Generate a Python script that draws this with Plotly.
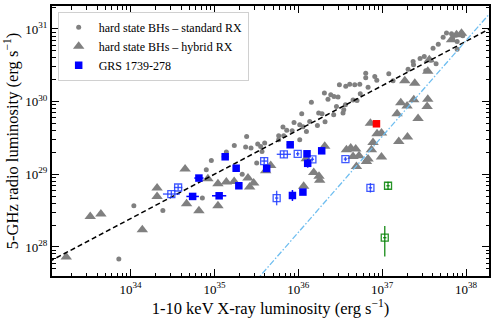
import numpy as np
import plotly.graph_objects as go

# ---------------- data (log10 luminosities, erg/s) ----------------
# hard-state BHs, standard radiative efficiency (grey dots)
std_logLx = [33.860, 34.039, 34.385, 34.856, 34.903, 34.963, 35.142, 35.237, 35.384, 35.372,
             35.436, 35.516, 35.599, 35.551, 35.567, 35.504, 35.331, 35.766, 35.826, 35.766,
             35.817, 35.862, 35.927, 35.949, 36.017, 36.041, 36.017, 36.056, 36.136, 36.097,
             36.156, 36.243, 36.283, 36.319, 36.228, 36.311, 36.354, 36.387, 36.426, 36.474,
             36.455, 36.422, 36.533, 36.490, 36.566, 36.613, 36.673, 36.733, 36.653, 36.700,
             36.739, 36.562, 36.542, 36.804, 36.804, 36.912, 36.936, 37.079, 37.130, 36.832,
             37.309, 37.369, 37.374, 37.452, 37.502, 37.580, 37.643, 37.520, 37.607, 37.669,
             37.727, 37.767, 37.827, 37.878, 37.839, 37.894, 37.894, 37.962, 37.946]
std_logLr = [27.834, 28.567, 28.502, 28.673, 29.062, 29.190, 29.305, 29.396, 29.520, 29.374,
             29.360, 29.415, 29.429, 29.382, 29.314, 29.154, 29.000, 29.530, 29.530, 29.475,
             29.649, 29.605, 29.598, 29.713, 29.475, 29.832, 29.681, 29.653, 29.726, 29.589,
             29.993, 29.842, 29.832, 29.722, 29.671, 30.117, 30.032, 30.094, 30.070, 30.062,
             29.933, 29.818, 29.842, 30.231, 30.210, 30.238, 30.231, 30.238, 30.021, 30.015,
             30.107, 29.956, 29.887, 30.392, 30.327, 30.345, 30.293, 30.382, 30.286, 30.199,
             30.447, 30.552, 30.506, 30.593, 30.620, 30.568, 30.520, 30.424, 30.736, 30.791,
             30.887, 30.946, 30.933, 30.912, 30.873, 30.827, 30.722, 30.905, 30.942]

# hard-state BHs, hybrid (triangles)
hyb_logLx = [33.233, 33.519, 33.646, 34.140, 34.316, 34.316, 34.650, 34.668, 34.815, 34.922,
             35.042, 35.142, 35.042, 35.235, 35.400, 35.468, 35.420, 35.671, 35.611, 36.184,
             36.247, 36.255, 36.064, 36.315, 36.693, 36.860, 36.939, 36.992, 36.891, 36.872,
             36.574, 36.625, 36.685, 36.653, 36.724, 36.832, 36.813, 36.992, 37.198, 37.302,
             37.178, 37.428, 37.222, 37.297, 37.377, 37.544, 37.536, 37.270, 37.389, 37.562,
             37.544, 37.827, 37.887, 37.946, 36.094]
hyb_logLr = [27.861, 28.420, 28.453, 28.237, 28.810, 28.695, 29.072, 28.594, 28.498, 28.938,
             28.869, 28.893, 28.567, 28.901, 28.948, 28.879, 28.824, 29.121, 29.048, 29.025,
             28.972, 28.917, 28.835, 29.385, 29.107, 29.704, 29.557, 29.567, 29.437, 29.337,
             29.337, 29.360, 29.347, 29.245, 29.254, 29.209, 29.176, 29.237, 29.451, 29.512,
             29.832, 29.768, 29.984, 29.938, 30.025, 30.034, 29.933, 30.286, 30.254, 30.575,
             30.417, 30.850, 30.919, 30.942, 29.213]

# GRS 1739-278, filled blue
grs_logLx = [35.128, 34.815, 35.259, 35.291, 34.740, 35.056, 35.903, 35.623, 35.930, 36.055,
             36.104, 36.112, 36.279]
grs_logLr = [29.241, 28.948, 29.083, 28.842, 28.695, 28.704, 29.406, 29.080, 28.708, 28.755,
             29.282, 29.151, 29.323]
grs_xerr = [0.04, 0.055, 0.03, 0.03, 0.075, 0.085, 0.04, 0.03, 0.02, 0.02, 0.02, 0.02, 0.02]
grs_yerr = [0.03, 0.03, 0.03, 0.03, 0.03, 0.03, 0.04, 0.03, 0.075, 0.03, 0.03, 0.06, 0.03]

# GRS 1739-278, open blue
grso_logLx = [34.486, 34.567, 35.828, 35.593, 35.993, 36.168, 35.742, 36.562, 36.860]
grso_logLr = [28.728, 28.818, 29.275, 29.182, 29.282, 29.206, 28.673, 29.209, 28.814]
grso_xerr = [0.10, 0.05, 0.085, 0.035, 0.02, 0.02, 0.02, 0.02, 0.02]
grso_yerr = [0.04, 0.04, 0.05, 0.045, 0.03, 0.03, 0.10, 0.03, 0.065]

# red point
red_logLx = [36.932]
red_logLr = [29.695]
red_xerr = [0.04]
red_yerr = [0.02]

# green open points
grn_logLx = [37.070, 37.031]
grn_logLr = [28.842, 28.127]
grn_xerr = [0.02, 0.02]
grn_yerr_plus = [0.055, 0.16]
grn_yerr_minus = [0.055, 0.26]

# correlations: log LR = norm + slope * (log LX - pivot)
std_norm, std_slope, std_pivot = 29.61, 0.61, 36.0
hyb_norm, hyb_slope, hyb_pivot = 29.52, 1.32, 37.0

x_range_log = [33.063, 38.274]
y_range_log = [27.60, 31.316]
x_major = [34, 35, 36, 37, 38]
y_major = [28, 29, 30, 31]

# ---------------- helpers ----------------
def lin(v):
    return 10 ** np.asarray(v, dtype=float)

def err(logv, ep, em=None):
    logv = np.asarray(logv, dtype=float)
    ep = np.asarray(ep, dtype=float)
    em = ep if em is None else np.asarray(em, dtype=float)
    return (10 ** (logv + ep) - 10 ** logv, 10 ** logv - 10 ** (logv - em))

FONT = "Liberation Serif"
BLUE = "#0000ff"
GREY = "#808080"

fig = go.Figure()

fig.add_trace(go.Scatter(x=lin(std_logLx), y=lin(std_logLr), mode="markers",
                         name="hard state BHs \u2013 standard RX",
                         marker=dict(symbol="circle", size=5, color=GREY, line=dict(width=0))))
fig.add_trace(go.Scatter(x=lin(hyb_logLx), y=lin(hyb_logLr), mode="markers",
                         name="hard state BHs \u2013 hybrid RX",
                         marker=dict(symbol="triangle-up", size=10, color=GREY, line=dict(width=0))))

# correlation lines
xl = np.array([x_range_log[0] - 0.2, x_range_log[1] + 0.2])
fig.add_trace(go.Scatter(x=lin(xl), y=lin(std_norm + std_slope * (xl - std_pivot)), mode="lines",
                         showlegend=False, line=dict(color="black", width=1.5, dash="5px,3px")))
fig.add_trace(go.Scatter(x=lin(xl), y=lin(hyb_norm + hyb_slope * (xl - hyb_pivot)), mode="lines",
                         showlegend=False, line=dict(color="#6fbef0", width=1.3, dash="6px,2px,1.5px,2px")))

# open blue
exp_, exm_ = err(grso_logLx, grso_xerr)
eyp_, eym_ = err(grso_logLr, grso_yerr)
fig.add_trace(go.Scatter(x=lin(grso_logLx), y=lin(grso_logLr), mode="markers", showlegend=False,
                         marker=dict(symbol="square-open", size=7, color="rgba(30,60,255,0.85)",
                                     line=dict(width=1.3)),
                         error_x=dict(type="data", symmetric=False, array=exp_, arrayminus=exm_,
                                      color="rgba(30,60,255,0.85)", thickness=1.4, width=0),
                         error_y=dict(type="data", symmetric=False, array=eyp_, arrayminus=eym_,
                                      color="rgba(30,60,255,0.85)", thickness=1.4, width=0)))

# filled blue
exp_, exm_ = err(grs_logLx, grs_xerr)
eyp_, eym_ = err(grs_logLr, grs_yerr)
fig.add_trace(go.Scatter(x=lin(grs_logLx), y=lin(grs_logLr), mode="markers", name="GRS 1739-278",
                         marker=dict(symbol="square", size=7.5, color=BLUE, line=dict(width=0)),
                         error_x=dict(type="data", symmetric=False, array=exp_, arrayminus=exm_,
                                      color=BLUE, thickness=1.5, width=0),
                         error_y=dict(type="data", symmetric=False, array=eyp_, arrayminus=eym_,
                                      color=BLUE, thickness=1.5, width=0)))

# red
exp_, exm_ = err(red_logLx, red_xerr)
eyp_, eym_ = err(red_logLr, red_yerr)
fig.add_trace(go.Scatter(x=lin(red_logLx), y=lin(red_logLr), mode="markers", showlegend=False,
                         marker=dict(symbol="square", size=7.5, color="#ff0000", line=dict(width=0)),
                         error_x=dict(type="data", symmetric=False, array=exp_, arrayminus=exm_,
                                      color="#ff0000", thickness=1.5, width=0),
                         error_y=dict(type="data", symmetric=False, array=eyp_, arrayminus=eym_,
                                      color="#ff0000", thickness=1.5, width=0)))

# green
exp_, exm_ = err(grn_logLx, grn_xerr)
eyp_, eym_ = err(grn_logLr, grn_yerr_plus, grn_yerr_minus)
fig.add_trace(go.Scatter(x=lin(grn_logLx), y=lin(grn_logLr), mode="markers", showlegend=False,
                         marker=dict(symbol="square-open", size=7, color="rgba(0,128,0,0.85)",
                                     line=dict(width=1.3)),
                         error_x=dict(type="data", symmetric=False, array=exp_, arrayminus=exm_,
                                      color="rgba(0,128,0,0.85)", thickness=1.4, width=0),
                         error_y=dict(type="data", symmetric=False, array=eyp_, arrayminus=eym_,
                                      color="rgba(0,128,0,0.85)", thickness=1.4, width=0)))

def minor_vals(lo, hi):
    vals = []
    for d in range(int(np.floor(lo)) - 1, int(np.ceil(hi)) + 1):
        for m in range(2, 10):
            v = m * 10.0 ** d
            if lo <= np.log10(v) <= hi:
                vals.append(v)
    return vals

axis_common = dict(type="log", showgrid=False, zeroline=False, showline=True, linecolor="black",
                   linewidth=2, mirror="allticks", ticks="inside", ticklen=7, tickwidth=1,
                   tickcolor="black", automargin=False,
                   tickfont=dict(family=FONT, size=13, color="black"))

fig.update_xaxes(**axis_common, range=x_range_log,
                 tickmode="array", tickvals=[10.0 ** v for v in x_major],
                 ticktext=[f"10<sup>{v}</sup>" for v in x_major],
                 minor=dict(tickmode="array", tickvals=minor_vals(*x_range_log), ticks="inside",
                            ticklen=3.5, tickwidth=0.8, tickcolor="black", showgrid=False),
                 title=dict(text="1-10 keV X-ray luminosity (erg s<sup>\u22121</sup>)",
                            font=dict(family=FONT, size=16.5, color="black"), standoff=1))
fig.update_yaxes(**axis_common, range=y_range_log,
                 tickmode="array", tickvals=[10.0 ** v for v in y_major],
                 ticktext=[f"10<sup>{v}</sup>" for v in y_major],
                 minor=dict(tickmode="array", tickvals=minor_vals(*y_range_log), ticks="inside",
                            ticklen=3.5, tickwidth=0.8, tickcolor="black", showgrid=False),
                 title=dict(text="5-GHz radio luminosity (erg s<sup>\u22121</sup>)",
                            font=dict(family=FONT, size=16.5, color="black"), standoff=3))

fig.update_layout(width=498, height=319, margin=dict(l=52, r=9, t=6, b=43),
                  paper_bgcolor="white", plot_bgcolor="white",
                  font=dict(family=FONT, color="black"),
                  legend=dict(x=0.013, y=0.979, xanchor="left", yanchor="top",
                              bgcolor="rgba(255,255,255,0.85)", bordercolor="#d0d0d0", borderwidth=1,
                              font=dict(family=FONT, size=12, color="black"),
                              itemwidth=30, tracegroupgap=0))

fig.write_html("out.html", config={"displayModeBar": False},
               post_script="document.body.style.margin='0px';")
